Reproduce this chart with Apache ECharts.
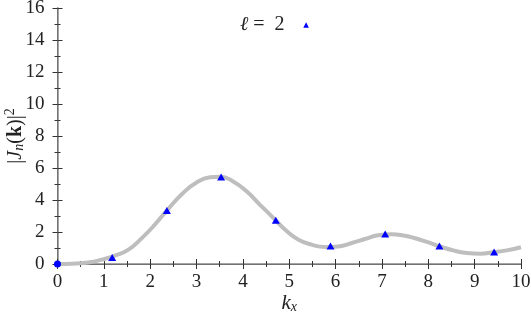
<!DOCTYPE html>
<html>
<head>
<meta charset="utf-8">
<script src="https://cdn.jsdelivr.net/npm/echarts@6/dist/echarts.min.js"></script>
<style>
  html, body { margin: 0; padding: 0; background: #fff; }
  #chart { width: 531px; height: 320px; }
</style>
</head>
<body>
<div id="chart"></div>
<script>
// grey curve
const curveX = [0, 0.31, 0.66, 0.95, 1.24, 1.53, 1.82, 2.10, 2.39, 2.71, 3.0, 3.29, 3.51, 3.79, 4.08, 4.37, 4.66, 4.95,
  5.2, 5.48, 5.77, 6.06, 6.35, 6.63, 6.92, 7.21, 7.5, 7.68, 7.97, 8.25, 8.54, 8.83, 9.12, 9.40, 9.69, 10];
const curveY = [0, 0.02, 0.1, 0.27, 0.52, 0.9, 1.62, 2.46, 3.45, 4.44, 5.1, 5.42, 5.46, 5.16, 4.54, 3.7, 2.87, 2.04,
  1.52, 1.21, 1.06, 1.1, 1.31, 1.56, 1.8, 1.86, 1.76, 1.64, 1.38, 1.1, 0.85, 0.69, 0.64, 0.73, 0.85, 1.05];

// blue markers (l = 2)
const markX = [0, 1.18, 2.36, 3.53, 4.71, 5.89, 7.07, 8.24, 9.42];
const markY = [0, 0.41, 3.35, 5.44, 2.73, 1.12, 1.87, 1.12, 0.75];

const xTicks = [0, 1, 2, 3, 4, 5, 6, 7, 8, 9, 10];
const yTicks = [0, 2, 4, 6, 8, 10, 12, 14, 16];

const serif = 'Liberation Serif';

const tickStyle = { show: true, inside: true, length: 5, lineStyle: { color: '#333', width: 1 } };
const minorStyle = { show: true, splitNumber: 2, length: 3, lineStyle: { color: '#333', width: 1 } };

function initChart() {
  var chartDom = document.getElementById('chart');
  var myChart = echarts.init(chartDom);

  const option = {
    animation: false,
    grid: { left: 57.5, right: 10, top: 8, bottom: 56, outerBoundsMode: 'none', containLabel: false },
    legend: {
      data: ['l2'],
      top: 10,
      left: 235,
      align: 'right',
      itemWidth: 9,
      itemHeight: 7,
      itemGap: 0,
      formatter: function () { return '{i|ℓ} =  2'; },
      textStyle: {
        fontFamily: serif, fontSize: 20, color: '#222', padding: [0, 12, 0, 0],
        rich: { i: { fontFamily: serif, fontStyle: 'italic', fontSize: 20, color: '#222' } }
      }
    },
    xAxis: [
      {
        type: 'value', min: xTicks[0], max: xTicks[xTicks.length - 1], interval: 1,
        position: 'bottom',
        axisLine: { show: true, lineStyle: { color: '#333', width: 1 } },
        axisTick: tickStyle,
        minorTick: minorStyle,
        splitLine: { show: false },
        axisLabel: { fontFamily: serif, fontSize: 19, color: '#222', margin: 9 },
        name: '{i|k}{s|x}',
        nameLocation: 'middle',
        nameMoveOverlap: false,
        nameGap: 28,
        nameTextStyle: {
          rich: {
            i: { fontFamily: serif, fontStyle: 'italic', fontSize: 21, color: '#222' },
            s: { fontFamily: serif, fontStyle: 'italic', fontSize: 14, color: '#222', padding: [8, 0, 0, 0] }
          }
        }
      },
      {
        type: 'value', min: 0, max: 10, interval: 1,
        position: 'top',
        axisLine: { show: true, lineStyle: { color: '#888', width: 1.5 } },
        axisTick: tickStyle,
        minorTick: minorStyle,
        splitLine: { show: false },
        axisLabel: { show: false }
      }
    ],
    yAxis: [
      {
        type: 'value', min: yTicks[0], max: yTicks[yTicks.length - 1], interval: 2,
        position: 'left',
        axisLine: { show: true, lineStyle: { color: '#333', width: 1 } },
        axisTick: tickStyle,
        minorTick: minorStyle,
        splitLine: { show: false },
        axisLabel: { fontFamily: serif, fontSize: 19, color: '#222', margin: 13 },
        name: '{r||}{i|J}{s|n}{r|(}{b|k}{r|)|}{p|2}',
        nameLocation: 'middle',
        nameRotate: 90,
        nameMoveOverlap: false,
        nameGap: 30,
        nameTextStyle: {
          rich: {
            r: { fontFamily: serif, fontSize: 20, color: '#222' },
            i: { fontFamily: serif, fontStyle: 'italic', fontSize: 20, color: '#222' },
            b: { fontFamily: serif, fontWeight: 'bold', fontSize: 20, color: '#222' },
            s: { fontFamily: serif, fontStyle: 'italic', fontSize: 14, color: '#222', padding: [8, 0, 0, 0] },
            p: { fontFamily: serif, fontSize: 14, color: '#222', padding: [0, 0, 10, 0] }
          }
        }
      },
      {
        type: 'value', min: 0, max: 16, interval: 2,
        position: 'right',
        axisLine: { show: true, lineStyle: { color: '#888', width: 1.5 } },
        axisTick: tickStyle,
        minorTick: minorStyle,
        splitLine: { show: false },
        axisLabel: { show: false }
      }
    ],
    series: [
      {
        name: 'curve',
        type: 'line',
        smooth: 0.5,
        showSymbol: false,
        lineStyle: { color: '#bebebe', width: 4 },
        data: curveX.map((x, i) => [x, curveY[i]]),
        z: 2
      },
      {
        name: 'l2',
        type: 'line',
        lineStyle: { width: 0, opacity: 0 },
        symbol: 'triangle',
        symbolSize: [8, 7],
        itemStyle: { color: '#0000ff' },
        data: markX.map((x, i) => i === 0
          ? { value: [x, markY[i]], symbol: 'circle', symbolSize: 7 }
          : [x, markY[i]]),
        z: 3
      }
    ]
  };

  myChart.setOption(option);
}

// make sure the local serif face is ready before drawing
if (document.fonts && document.fonts.load) {
  Promise.all([
    document.fonts.load('20px "Liberation Serif"'),
    document.fonts.load('italic 20px "Liberation Serif"'),
    document.fonts.load('bold 20px "Liberation Serif"')
  ]).then(initChart, initChart);
} else {
  initChart();
}
</script>
</body>
</html>
